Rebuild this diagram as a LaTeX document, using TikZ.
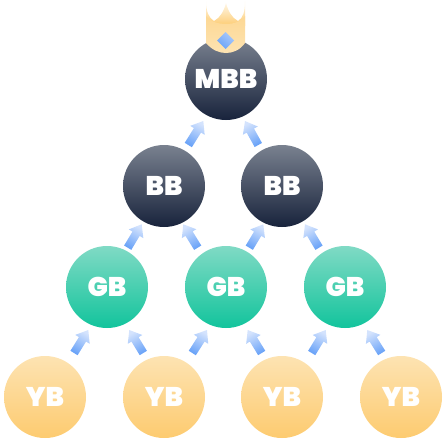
\documentclass[tikz,border=0pt]{standalone}
\usepackage{fontspec}
\setmainfont{Poppins}[BoldFont={Poppins Black}]
\usepackage{tikz}
\usetikzlibrary{calc}
\definecolor{darktop}{HTML}{79818F}
\definecolor{darkbot}{HTML}{18233C}
\definecolor{greentop}{HTML}{80DAC5}
\definecolor{greenbot}{HTML}{12C49C}
\definecolor{yellowtop}{HTML}{FDE3B2}
\definecolor{yellowbot}{HTML}{FDCB70}
\definecolor{crownpale}{HTML}{FFFAF0}
\definecolor{flowtail}{HTML}{6AA3F8}
\definecolor{flowtip}{HTML}{D4E3FD}
\tikzset{
  belt/.style={circle, minimum size=82pt, inner sep=0pt, text=white, font=\bfseries\fontsize{27}{27}\selectfont},
  bb/.style={belt, top color=darktop, bottom color=darkbot},
  gb/.style={belt, top color=greentop, bottom color=greenbot},
  yb/.style={belt, top color=yellowtop, bottom color=yellowbot}
}
\begin{document}
\begin{tikzpicture}[x=1pt, y=-1pt]
  \useasboundingbox (0,0) rectangle (446,442);
  % levels, bottom row first
  \foreach \name/\x in {y1/45, y2/164, y3/282, y4/401}
    \node[yb] (\name) at (\x,397) {YB};
  \foreach \name/\x in {g1/107, g2/226, g3/345}
    \node[gb] (\name) at (\x,287) {GB};
  \foreach \name/\x in {b1/164, b2/282}
    \node[bb] (\name) at (\x,186) {BB};
  \node[bb] (m) at (226,79) {MBB};
  % crown
  \shade[top color=crownpale, bottom color=yellowbot]
    (206,1) .. controls (206,12) and (209,18) .. (214,21)
    .. controls (220,18) and (224,11) .. (226,3)
    .. controls (228,11) and (232,18) .. (238,21)
    .. controls (243,18) and (245,12) .. (245,1)
    -- (245,26) -- (206,26) -- cycle;
  \shade[top color=yellowbot!75!white, bottom color=yellowtop]
    (206,16) .. controls (209,21) and (217,24) .. (226,24)
    .. controls (235,24) and (242,21) .. (245,16) -- (245,43)
    .. controls (240,50) and (233,53) .. (226,53)
    .. controls (219,53) and (212,50) .. (206,43) -- cycle;
  \shade[top color=flowtip!60!flowtail, bottom color=flowtail, shading angle=-40]
    (225.5,32) -- (234,40.5) -- (225.5,49) -- (217,40.5) -- cycle;
  % arrows between levels
  \foreach \from/\to/\tx/\ty/\hx/\hy/\ang in {
    b1/m/24.3/-41/-22.7/42/-30, b2/m/-23.7/-41/19/42/30,
    g1/b1/20.7/-39.3/-22.3/38.3/-30, g2/b1/-28.3/-39.3/19.3/38.3/30,
    g2/b2/23.3/-39.3/-18.7/38.3/-30, g3/b2/-26/-39.3/23/38.3/30,
    y1/g1/29/-44/-18.7/43/-30, y2/g1/-20.7/-44/22.3/43/30,
    y2/g2/28.3/-44/-19/43/-30, y3/g2/-20.3/-44/21.7/43/30,
    y3/g3/29.7/-44/-19.3/43/-30, y4/g3/-19.3/-44/22.3/43/30
  } {
    \coordinate (s) at ($(\from)+(\tx,\ty)$);
    \coordinate (t) at ($(\to)+(\hx,\hy)$);
    \coordinate (n) at ($(t)!11pt!(s)$);
    \shade[top color=flowtip, bottom color=flowtail, shading angle=\ang]
      ($(s)!4.2pt!90:(t)$) -- ($(n)!4.2pt!-90:(s)$) -- ($(n)!8.5pt!-90:(s)$) -- (t)
      -- ($(n)!8.5pt!90:(s)$) -- ($(n)!4.2pt!90:(s)$) -- ($(s)!4.2pt!-90:(t)$) -- cycle;
  }
\end{tikzpicture}
\end{document}
